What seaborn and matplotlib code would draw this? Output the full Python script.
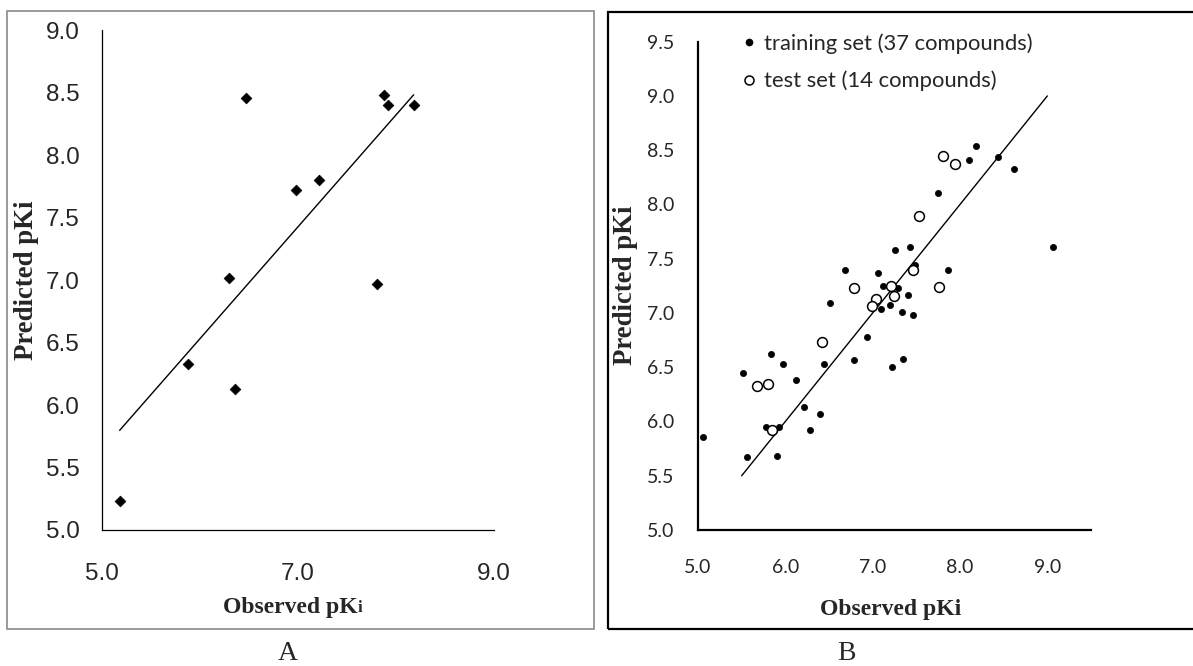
import numpy as np
import pandas as pd
import matplotlib
matplotlib.use("Agg")
import matplotlib.pyplot as plt
from matplotlib.lines import Line2D
from matplotlib.patches import Rectangle
from matplotlib.offsetbox import TextArea, HPacker, AnchoredOffsetbox
import seaborn as sns

# ---- Model A: observed vs predicted pKi ----
a_observed = [6.47, 7.88, 7.92, 8.18, 6.98, 7.21, 6.30, 7.81, 5.88, 6.36, 5.18]
a_predicted = [8.46, 8.48, 8.40, 8.40, 7.72, 7.80, 7.02, 6.97, 6.33, 6.13, 5.23]

# ---- Model B: training set ----
train_observed = [8.18, 8.10, 8.43, 8.62, 7.75, 9.06, 7.43, 7.25, 6.68, 7.06,
                  7.86, 7.48, 7.12, 7.29, 7.41, 6.51, 7.10, 7.20, 7.34, 7.46,
                  6.93, 5.84, 5.97, 5.52, 6.12, 6.44, 6.79, 7.22, 7.35, 6.21,
                  6.40, 5.78, 5.93, 6.28, 5.06, 5.56, 5.91]
train_predicted = [8.54, 8.41, 8.44, 8.33, 8.11, 7.61, 7.61, 7.58, 7.40, 7.37,
                   7.40, 7.44, 7.25, 7.23, 7.17, 7.09, 7.04, 7.07, 7.01, 6.98,
                   6.78, 6.62, 6.53, 6.45, 6.38, 6.53, 6.57, 6.50, 6.58, 6.13,
                   6.07, 5.95, 5.95, 5.92, 5.86, 5.67, 5.68]

# ---- Model B: test set ----
test_observed = [7.80, 7.94, 7.53, 7.46, 7.21, 7.24, 6.79, 7.76, 7.04, 6.99,
                 6.42, 5.67, 5.80, 5.85]
test_predicted = [8.45, 8.37, 7.89, 7.40, 7.25, 7.16, 7.23, 7.24, 7.13, 7.06,
                  6.73, 6.33, 6.35, 5.92]

# reference line for model B
b_line_x = [5.5, 9.0]
b_line_y = [5.5, 9.0]

a_ticks_x = [5.0, 7.0, 9.0]
a_ticks_y = [5.0, 5.5, 6.0, 6.5, 7.0, 7.5, 8.0, 8.5, 9.0]
b_ticks_x = [5.0, 6.0, 7.0, 8.0, 9.0]
b_ticks_y = [5.0, 5.5, 6.0, 6.5, 7.0, 7.5, 8.0, 8.5, 9.0, 9.5]

legend_labels = ["training set (37 compounds)", "test set (14 compounds)"]

sns.set_style("white")
plt.rcParams["font.family"] = ["DejaVu Sans"]

W, H = 1193, 666
fig = plt.figure(figsize=(W / 100, H / 100), dpi=100)


def px_rect(left, top, right, bottom):
    return [left / W, 1 - bottom / H, (right - left) / W, (bottom - top) / H]


xlabel_font = dict(family="Liberation Serif", weight="bold", size=17)
ylabel_font = dict(family="Liberation Serif", weight="bold", size=19.3)

# ---------- panel A ----------
ax_a = fig.add_axes(px_rect(102, 30, 494, 530))
df_a = pd.DataFrame({"observed": a_observed, "predicted": a_predicted})
sns.scatterplot(data=df_a, x="observed", y="predicted", marker="D", s=30,
                color="black", edgecolor="black", linewidth=0.5, ax=ax_a)
slope, intercept = np.polyfit(a_observed, a_predicted, 1)
fit_x = np.array([min(a_observed), max(a_observed)])
ax_a.plot(fit_x, slope * fit_x + intercept, color="black", lw=1.0)
ax_a.set_xlim(5, 9)
ax_a.set_ylim(5, 9)
ax_a.set_xticks(a_ticks_x)
ax_a.set_yticks(a_ticks_y)
ax_a.set_xticklabels([f"{v:.1f}" for v in a_ticks_x], family="Liberation Sans", size=17.5)
ax_a.set_yticklabels([f"{v:.1f}" for v in a_ticks_y], family="Liberation Sans", size=17.5)
ax_a.tick_params(axis="x", length=0, pad=24)
ax_a.tick_params(axis="y", length=0, pad=16)
for side in ("top", "right"):
    ax_a.spines[side].set_visible(False)
for side in ("left", "bottom"):
    ax_a.spines[side].set_color("black")
    ax_a.spines[side].set_linewidth(0.9)
ax_a.set_xlabel("")
ax_a.set_ylabel("Predicted pKi", fontdict=ylabel_font)
ax_a.yaxis.set_label_coords(27 / W, 1 - 280 / H, transform=fig.transFigure)
ax_a.yaxis.label.set_va("center")

# x label with a smaller "i"
xl_box = HPacker(children=[
    TextArea("Observed pK", textprops=xlabel_font),
    TextArea("i", textprops=dict(family="Liberation Serif", weight="bold", size=12)),
], align="baseline", pad=0, sep=0)
anchored = AnchoredOffsetbox(loc="center", child=xl_box, pad=0, frameon=False,
                             bbox_to_anchor=(293 / W, 1 - 607 / H),
                             bbox_transform=fig.transFigure, borderpad=0)
fig.add_artist(anchored)

# ---------- panel B ----------
ax_b = fig.add_axes(px_rect(698, 41.7, 1091, 530))
df_train = pd.DataFrame({"observed": train_observed, "predicted": train_predicted})
df_test = pd.DataFrame({"observed": test_observed, "predicted": test_predicted})
sns.scatterplot(data=df_train, x="observed", y="predicted", marker="o", s=20,
                color="black", edgecolor="black", linewidth=0.5, ax=ax_b, zorder=3)
sns.scatterplot(data=df_test, x="observed", y="predicted", marker="o", s=50,
                facecolor="white", edgecolor="black", linewidth=1.1, ax=ax_b, zorder=4)
ax_b.plot(b_line_x, b_line_y, color="black", lw=1.0, zorder=2)
ax_b.set_xlim(5, 9.5)
ax_b.set_ylim(5, 9.5)
ax_b.set_xticks(b_ticks_x)
ax_b.set_yticks(b_ticks_y)
ax_b.set_xticklabels([f"{v:.1f}" for v in b_ticks_x], family="Lato", size=14)
ax_b.set_yticklabels([f"{v:.1f}" for v in b_ticks_y], family="Lato", size=14)
ax_b.tick_params(axis="x", length=0, pad=21)
ax_b.tick_params(axis="y", length=0, pad=17)
for side in ("top", "right"):
    ax_b.spines[side].set_visible(False)
for side in ("left", "bottom"):
    ax_b.spines[side].set_color("black")
    ax_b.spines[side].set_linewidth(1.6)
ax_b.set_xlabel("Observed pKi", fontdict=xlabel_font)
ax_b.xaxis.set_label_coords(891 / W, 1 - 609 / H, transform=fig.transFigure)
ax_b.xaxis.label.set_va("center")
ax_b.set_ylabel("Predicted pKi", fontdict=ylabel_font)
ax_b.yaxis.set_label_coords(625 / W, 1 - 285 / H, transform=fig.transFigure)
ax_b.yaxis.label.set_va("center")

handles = [
    Line2D([], [], ls="none", marker="o", markersize=4.5, markerfacecolor="black",
           markeredgecolor="black"),
    Line2D([], [], ls="none", marker="o", markersize=6.5, markerfacecolor="white",
           markeredgecolor="black", markeredgewidth=1.1),
]
ax_b.legend(handles, legend_labels, loc="upper left", bbox_to_anchor=(742 / W, 1 - 33 / H),
            bbox_transform=fig.transFigure, frameon=False, handlelength=0.6,
            handletextpad=0.4, labelspacing=0.78, borderpad=0, borderaxespad=0,
            prop=dict(family="Lato", size=15.8))

# ---------- panel frames and captions ----------
fig.add_artist(Rectangle((7.5 / W, 1 - 629 / H), (593.5 - 7.5) / W, (629 - 11) / H,
                         transform=fig.transFigure, fill=False, edgecolor="#8a8a8a", lw=1.2))
fig.add_artist(Rectangle((608 / W, 1 - 629 / H), (1220 - 608) / W, (629 - 11.5) / H,
                         transform=fig.transFigure, fill=False, edgecolor="black", lw=1.6,
                         clip_on=False))
fig.text(288 / W, 1 - 654 / H, "A", ha="center", va="center",
         family="Liberation Serif", size=20)
fig.text(846 / W, 1 - 654 / H, "B", ha="center", va="center",
         family="Liberation Serif", size=20)

fig.savefig("out.png", dpi=100)
